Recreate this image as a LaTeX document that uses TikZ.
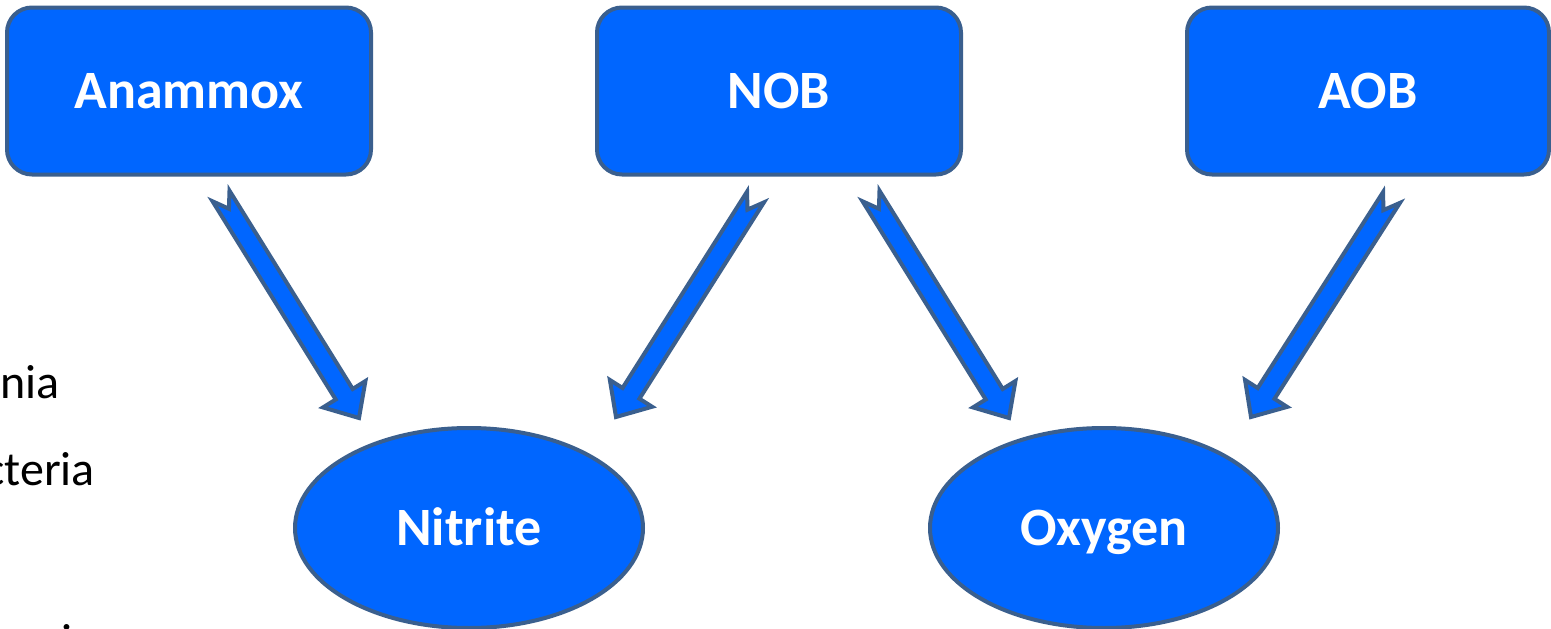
\documentclass[tikz,border=0pt]{standalone}
\usepackage{fontspec}
\setmainfont{Carlito}
\usetikzlibrary{calc,shapes.geometric}
\definecolor{boxblue}{HTML}{0066FF}
\definecolor{edgeblue}{HTML}{3A5F8E}
\tikzset{
  lbl/.style={text=white, font=\bfseries\fontsize{54}{60}\selectfont, text height=34pt, text depth=0pt, inner sep=0pt},
  rbox/.style={lbl, rectangle, rounded corners=25pt, fill=boxblue, draw=edgeblue, line width=4pt, minimum width=364pt, minimum height=167pt},
  oval/.style={lbl, ellipse, fill=boxblue, draw=edgeblue, line width=4pt, minimum width=348pt, minimum height=200pt},
  side/.style={font=\fontsize{48}{56}\selectfont, text=black, inner sep=0pt},
  barrow/.style={fill=boxblue, draw=edgeblue, line width=4pt, line join=miter}
}
\newcommand\blockarrow[2]{%
  \path ($(#2)!28pt!(#1)$) coordinate (hb);
  \draw[barrow] ($(#1)!10pt!90:(#2)$) -- ($(hb)!10pt!-90:(#1)$) -- ($(hb)!25pt!-90:(#1)$) -- (#2)
    -- ($(hb)!25pt!90:(#1)$) -- ($(hb)!10pt!90:(#1)$) -- ($(#1)!10pt!-90:(#2)$) -- ($(#1)!15pt!(#2)$) -- cycle;}
\begin{document}
\begin{tikzpicture}[x=1pt,y=-1pt]
\useasboundingbox (0,0) rectangle (1551,629);
% boxes
\node[rbox] (anammox) at (189,91) {Anammox};
\node[rbox] (nob) at (779,91) {NOB};
\node[rbox, minimum width=362pt] (aob) at (1368,91) {AOB};
% ellipses
\node[oval] (nitrite) at (469,528) {Nitrite};
\node[oval] (oxygen) at (1104,528) {Oxygen};
% side text (cut off at the left edge, as in the reference)
\node[side, anchor=base east] (t1) at (60,398) {onia};
\node[side, anchor=base east] (t2) at (95,485) {cteria};
\node[side, anchor=base] (t3) at (67,657) {i};
% arrow ends
\coordinate (a1s) at (221,196);    \coordinate (a1e) at (359,418);
\coordinate (a2s) at (755.5,197);  \coordinate (a2e) at (616,417);
\coordinate (a3s) at (871,196);    \coordinate (a3e) at (1009,418);
\coordinate (a4s) at (1391.5,197.5); \coordinate (a4e) at (1251,417);
\blockarrow{a1s}{a1e}
\blockarrow{a2s}{a2e}
\blockarrow{a3s}{a3e}
\blockarrow{a4s}{a4e}
\end{tikzpicture}
\end{document}
